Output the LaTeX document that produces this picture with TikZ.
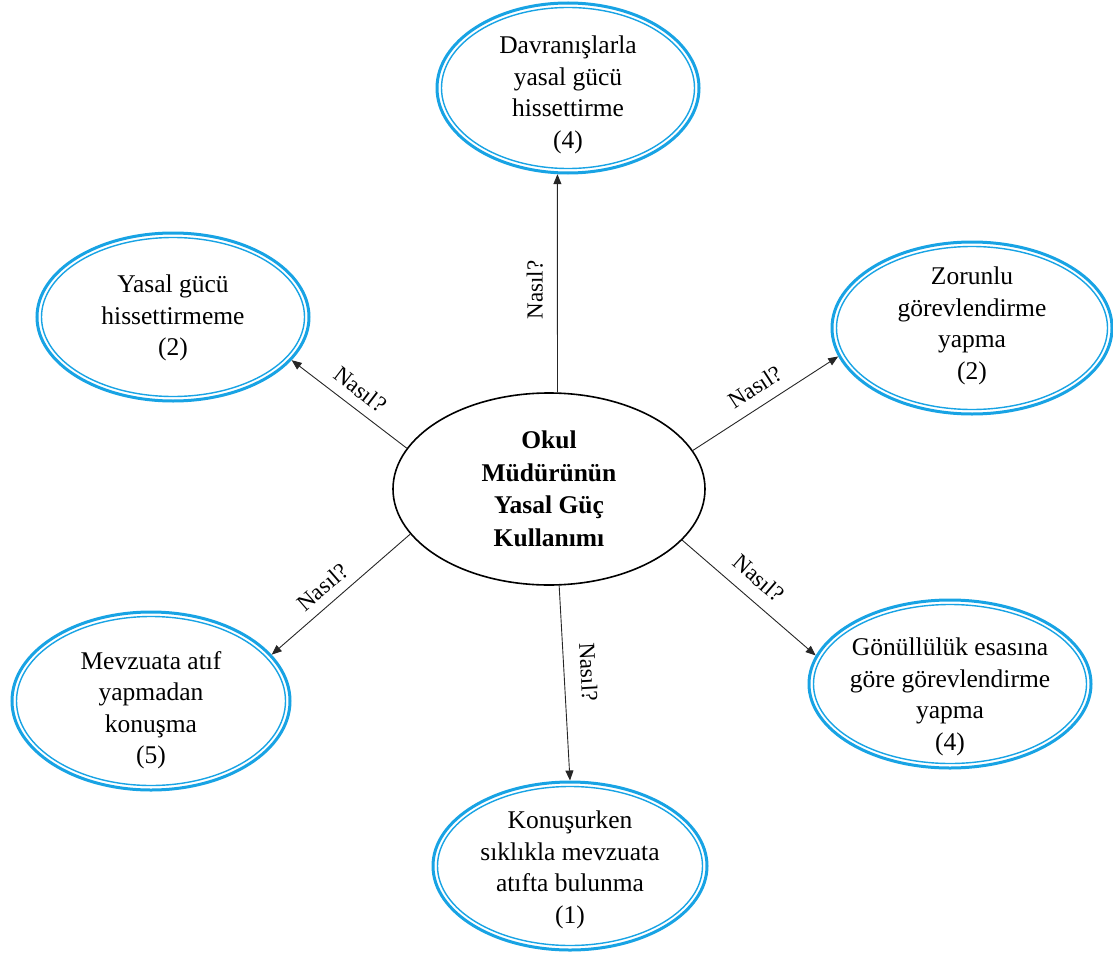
\documentclass[tikz,border=0pt]{standalone}
\usepackage{fontspec}
\setmainfont{Liberation Serif}
\usetikzlibrary{shapes.geometric,arrows.meta}
\definecolor{ringblue}{RGB}{24,163,228}
\begin{document}
\begin{tikzpicture}[x=1pt,y=-1pt,
  ringout/.style={ellipse, draw=ringblue, line width=3pt, inner sep=0pt},
  ringin/.style={ellipse, draw=ringblue, line width=1.4pt, inner sep=0pt},
  txt/.style={align=center, font=\fontsize{25.5}{31.5}\selectfont, inner sep=0pt},
  hub/.style={ellipse, draw=black, line width=1.6pt, inner sep=0pt,
    minimum width=312pt, minimum height=192pt},
  conn/.style={draw=black!85, line width=0.9pt, -{Triangle[length=10pt,width=8pt]}},
  lab/.style={font=\fontsize{23}{27}\selectfont, inner sep=1pt, sloped}
]
\useasboundingbox (0,0) rectangle (1113,955);

% double blue ring: name, x, y, half width, half height
\newcommand{\ringnode}[5]{%
  \node[ringout, minimum width={2*#4pt}, minimum height={2*#5pt}] (#1) at (#2,#3) {};
  \node[ringin, minimum width={2*#4pt-9pt}, minimum height={2*#5pt-9pt}] (#1-in) at (#2,#3) {};
}

\ringnode{top}{568}{88}{131}{85}
\ringnode{ul}{173}{317}{136}{84}
\ringnode{ur}{972}{328}{140}{86}
\ringnode{dr}{950}{684}{141}{84}
\ringnode{dl}{151}{701}{139}{89}
\ringnode{bot}{570}{866}{137}{84}

\node[txt] (top-t) at (568,95) {Davranışlarla\\yasal gücü\\hissettirme\\(4)};
\node[txt] (ul-t) at (173,318) {Yasal gücü\\hissettirmeme\\(2)};
\node[txt] (ur-t) at (972,326) {Zorunlu\\görevlendirme\\yapma\\(2)};
\node[txt] (dr-t) at (950,697) {Gönüllülük esasına\\göre görevlendirme\\yapma\\(4)};
\node[txt] (dl-t) at (151,710) {Mevzuata atıf\\yapmadan\\konuşma\\(5)};
\node[txt] (bot-t) at (570,870) {Konuşurken\\sıklıkla mevzuata\\atıfta bulunma\\(1)};

\node[hub] (hub) at (549,489) {};
\node[txt, font=\fontsize{25.5}{32.5}\selectfont\bfseries] (hub-t) at (549,489)
  {Okul\\Müdürünün\\Yasal Güç\\Kullanımı};

\draw[conn] (hub.85.2) -- (top.-97.5)
  node[lab, pos=0.47, above=13pt, allow upside down] {Nasıl?};
\draw[conn] (hub.164.8) -- (ul.-20.6) node[lab, pos=0.5, above=9pt] {Nasıl?};
\draw[conn] (hub.15.2) -- (ur.192.2) node[lab, pos=0.5, above=10pt] {Nasıl?};
\draw[conn] (hub.198.7) -- (dl.21.6) node[lab, pos=0.55, above=8pt] {Nasıl?};
\draw[conn] (hub.-21.9) -- (dr.168.8) node[lab, pos=0.47, above=12pt] {Nasıl?};
\draw[conn] (hub.-84.7) -- (bot.90) node[lab, pos=0.45, above=15pt] {Nasıl?};
\end{tikzpicture}
\end{document}
